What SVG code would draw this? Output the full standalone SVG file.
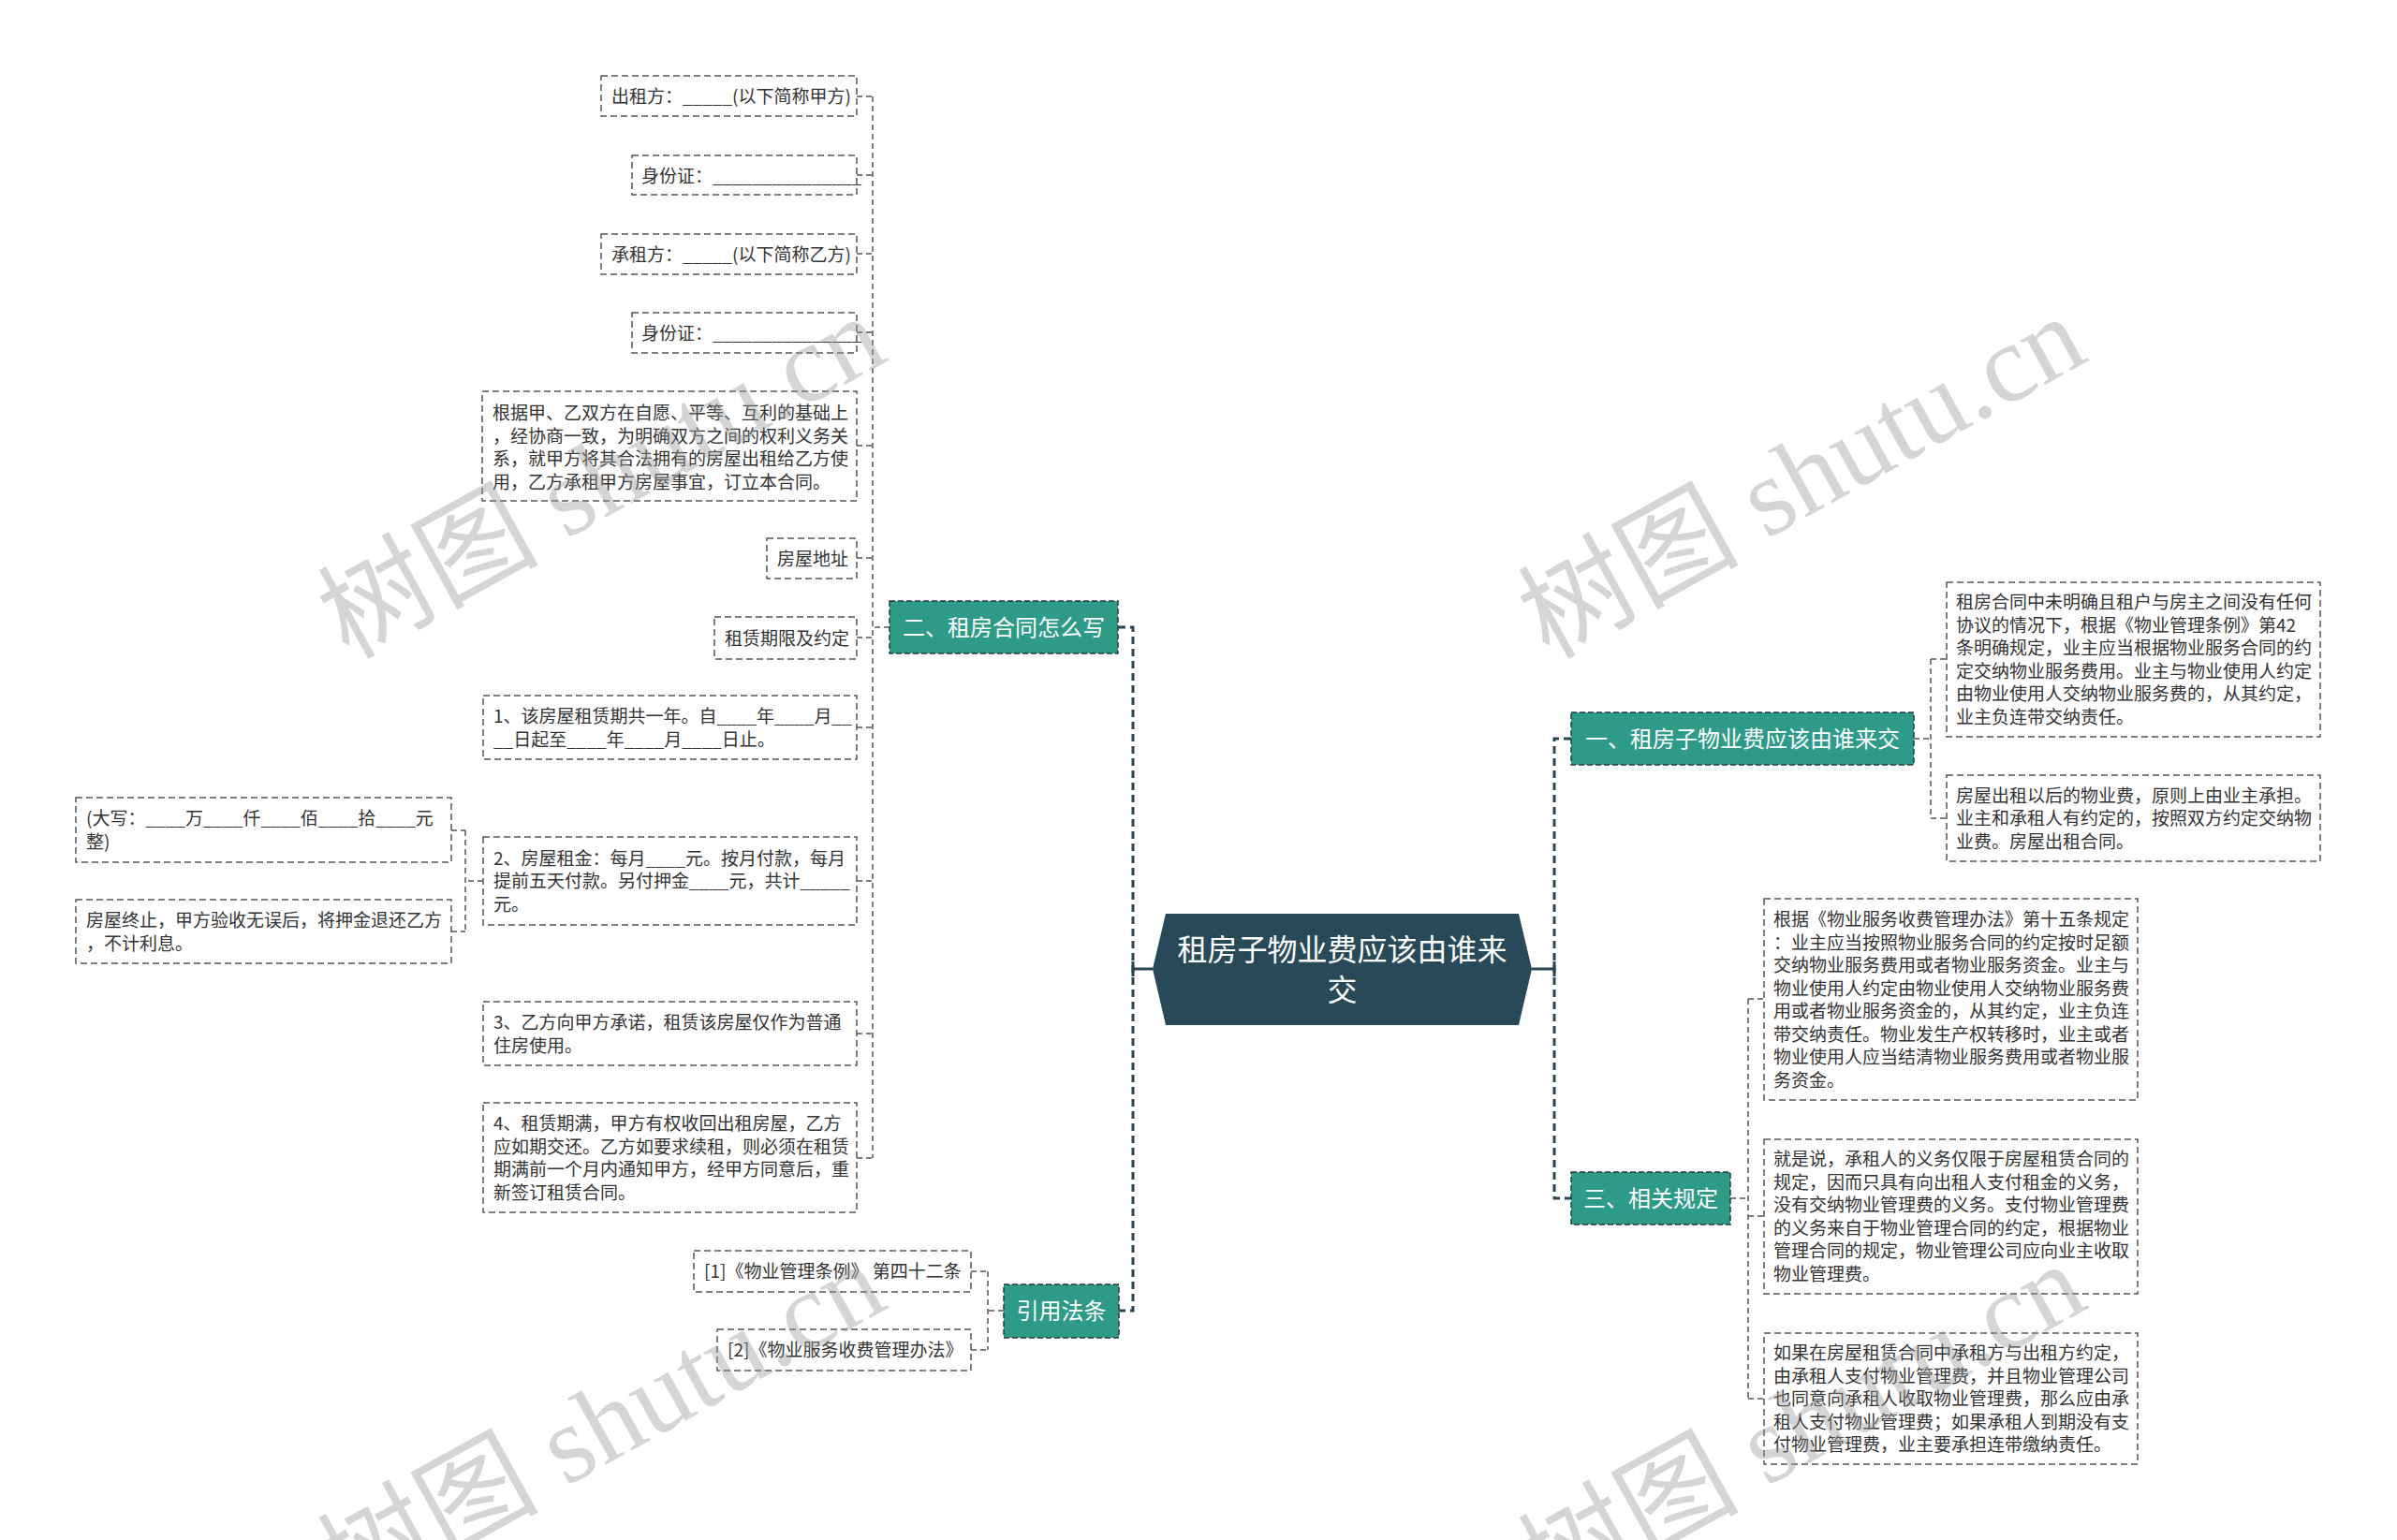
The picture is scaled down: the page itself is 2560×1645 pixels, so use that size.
<svg xmlns="http://www.w3.org/2000/svg" width="2560" height="1645" viewBox="0 0 2560 1645">
<style>
.box{fill:#fff;stroke:#555;stroke-width:1.5;stroke-dasharray:7 4}
.t{font-family:"Noto Sans CJK SC","Noto Sans",sans-serif;font-size:19px;fill:#333}
.topic{fill:#2e9b88;stroke:#2a3a40;stroke-width:1.5;stroke-dasharray:6 3}
.tt{font-family:"Noto Sans CJK SC","Noto Sans",sans-serif;font-size:24px;fill:#fff;text-anchor:middle}
.trunk{stroke:#264653;stroke-width:3;stroke-dasharray:8 5;fill:none}
.link{stroke:#555;stroke-width:1.5;stroke-dasharray:6 4;fill:none}
.solid{stroke:#264653;stroke-width:3;fill:none}
.wm{font-size:118px;fill:#999;opacity:0.4}
.wmc{font-family:"Noto Sans CJK SC",sans-serif}
.wml{font-family:"Liberation Serif",serif}
</style>
<rect width="2560" height="1645" fill="#fff"/>

<g id="connectors">
  <path class="solid" d="M1210 1035H1231M1210 1027V1043M1636 1035H1660M1660 1027V1043"/>
  <path class="trunk" d="M1194 670H1210V1400H1195"/>
  <path class="trunk" d="M1678 789H1660V1280H1678"/>
  <path class="link" d="M950 670H932M932 103V1237M915 103H932M915 187H932M915 271H932M915 355H932M915 476H932M915 596H932M915 681H932M915 777H932M915 941H932M915 1104H932M915 1237H932"/>
  <path class="link" d="M516 941H497M497 887V995M482 887H497M482 995H497"/>
  <path class="link" d="M1072 1400H1055M1055 1358V1442M1037 1358H1055M1037 1442H1055"/>
  <path class="link" d="M2044 789H2062M2062 704V874M2062 704H2079M2062 874H2079"/>
  <path class="link" d="M1848 1280H1867M1867 1067V1494M1867 1067H1884M1867 1299H1884M1867 1494H1884"/>
</g>

<g id="root">
  <polygon points="1245,976 1622,976 1636,1035 1622,1095 1245,1095 1231,1035" fill="#284a58"/>
  <text class="tt" style="font-size:32px" x="1433.5" y="1026">租房子物业费应该由谁来</text>
  <text class="tt" style="font-size:32px" x="1433.5" y="1069">交</text>
</g>

<g id="topic-2">
  <rect class="topic" x="950" y="642" width="244" height="56"/>
  <text class="tt" x="1072" y="678.5">二、租房合同怎么写</text>
</g>
<g id="topic-cite">
  <rect class="topic" x="1072" y="1372" width="123" height="57"/>
  <text class="tt" x="1133.5" y="1409">引用法条</text>
</g>
<g id="topic-1">
  <rect class="topic" x="1678" y="761" width="366" height="56"/>
  <text class="tt" x="1861" y="797.5">一、租房子物业费应该由谁来交</text>
</g>
<g id="topic-3">
  <rect class="topic" x="1678" y="1252" width="170" height="56"/>
  <text class="tt" x="1763" y="1288.5">三、相关规定</text>
</g>

<g id="n-lessor">
  <rect class="box" x="642" y="81" width="273" height="43"/>
  <text class="t" x="653" y="110">出租方：_____(以下简称甲方)</text>
</g>
<g id="n-id1">
  <rect class="box" x="675" y="166" width="240" height="42"/>
  <text class="t" x="685" y="195">身份证：_______________</text>
</g>
<g id="n-lessee">
  <rect class="box" x="642" y="250" width="273" height="43"/>
  <text class="t" x="653" y="279">承租方：_____(以下简称乙方)</text>
</g>
<g id="n-id2">
  <rect class="box" x="675" y="334" width="240" height="43"/>
  <text class="t" x="685" y="363">身份证：_______________</text>
</g>
<g id="n-intro">
  <rect class="box" x="515" y="418" width="400" height="117"/>
  <text class="t"><tspan x="526" y="448">根据甲、乙双方在自愿、平等、互利的基础上</tspan><tspan x="526" y="472.5">，经协商一致，为明确双方之间的权利义务关</tspan><tspan x="526" y="497">系，就甲方将其合法拥有的房屋出租给乙方使</tspan><tspan x="526" y="521.5">用，乙方承租甲方房屋事宜，订立本合同。</tspan></text>
</g>
<g id="n-addr">
  <rect class="box" x="819" y="575" width="96" height="43"/>
  <text class="t" x="830" y="604">房屋地址</text>
</g>
<g id="n-term">
  <rect class="box" x="763" y="659" width="152" height="45"/>
  <text class="t" x="774" y="689">租赁期限及约定</text>
</g>
<g id="n-1">
  <rect class="box" x="516" y="743" width="399" height="68"/>
  <text class="t"><tspan x="527" y="772">1、该房屋租赁期共一年。自____年____月__</tspan><tspan x="527" y="796.5">__日起至____年____月____日止。</tspan></text>
</g>
<g id="n-2">
  <rect class="box" x="516" y="894" width="399" height="94"/>
  <text class="t"><tspan x="527" y="923.5">2、房屋租金：每月____元。按月付款，每月</tspan><tspan x="527" y="948">提前五天付款。另付押金____元，共计_____</tspan><tspan x="527" y="972.5">元。</tspan></text>
</g>
<g id="n-2a">
  <rect class="box" x="81" y="852" width="401" height="69"/>
  <text class="t"><tspan x="92" y="881">(大写：____万____仟____佰____拾____元</tspan><tspan x="92" y="905.5">整)</tspan></text>
</g>
<g id="n-2b">
  <rect class="box" x="81" y="961" width="401" height="68"/>
  <text class="t"><tspan x="92" y="990">房屋终止，甲方验收无误后，将押金退还乙方</tspan><tspan x="92" y="1014.5">，不计利息。</tspan></text>
</g>
<g id="n-3">
  <rect class="box" x="516" y="1070" width="399" height="68"/>
  <text class="t"><tspan x="527" y="1099">3、乙方向甲方承诺，租赁该房屋仅作为普通</tspan><tspan x="527" y="1123.5">住房使用。</tspan></text>
</g>
<g id="n-4">
  <rect class="box" x="516" y="1178" width="399" height="117"/>
  <text class="t"><tspan x="527" y="1207">4、租赁期满，甲方有权收回出租房屋，乙方</tspan><tspan x="527" y="1231.5">应如期交还。乙方如要求续租，则必须在租赁</tspan><tspan x="527" y="1256">期满前一个月内通知甲方，经甲方同意后，重</tspan><tspan x="527" y="1280.5">新签订租赁合同。</tspan></text>
</g>
<g id="n-cite1">
  <rect class="box" x="741" y="1336" width="296" height="44"/>
  <text class="t" x="752" y="1365">[1]《物业管理条例》 第四十二条</text>
</g>
<g id="n-cite2">
  <rect class="box" x="766" y="1420" width="271" height="44"/>
  <text class="t" x="777" y="1449">[2]《物业服务收费管理办法》</text>
</g>

<g id="n-a">
  <rect class="box" x="2079" y="622" width="399" height="165"/>
  <text class="t"><tspan x="2089" y="650">租房合同中未明确且租户与房主之间没有任何</tspan><tspan x="2089" y="674.5">协议的情况下，根据《物业管理条例》第42</tspan><tspan x="2089" y="699">条明确规定，业主应当根据物业服务合同的约</tspan><tspan x="2089" y="723.5">定交纳物业服务费用。业主与物业使用人约定</tspan><tspan x="2089" y="748">由物业使用人交纳物业服务费的，从其约定，</tspan><tspan x="2089" y="772.5">业主负连带交纳责任。</tspan></text>
</g>
<g id="n-b">
  <rect class="box" x="2079" y="828" width="399" height="92"/>
  <text class="t"><tspan x="2089" y="856.5">房屋出租以后的物业费，原则上由业主承担。</tspan><tspan x="2089" y="881">业主和承租人有约定的，按照双方约定交纳物</tspan><tspan x="2089" y="905.5">业费。房屋出租合同。</tspan></text>
</g>
<g id="n-c">
  <rect class="box" x="1884" y="960" width="399" height="215"/>
  <text class="t"><tspan x="1894" y="989">根据《物业服务收费管理办法》第十五条规定</tspan><tspan x="1894" y="1013.5">：业主应当按照物业服务合同的约定按时足额</tspan><tspan x="1894" y="1038">交纳物业服务费用或者物业服务资金。业主与</tspan><tspan x="1894" y="1062.5">物业使用人约定由物业使用人交纳物业服务费</tspan><tspan x="1894" y="1087">用或者物业服务资金的，从其约定，业主负连</tspan><tspan x="1894" y="1111.5">带交纳责任。物业发生产权转移时，业主或者</tspan><tspan x="1894" y="1136">物业使用人应当结清物业服务费用或者物业服</tspan><tspan x="1894" y="1160.5">务资金。</tspan></text>
</g>
<g id="n-d">
  <rect class="box" x="1884" y="1217" width="399" height="165"/>
  <text class="t"><tspan x="1894" y="1245">就是说，承租人的义务仅限于房屋租赁合同的</tspan><tspan x="1894" y="1269.5">规定，因而只具有向出租人支付租金的义务，</tspan><tspan x="1894" y="1294">没有交纳物业管理费的义务。支付物业管理费</tspan><tspan x="1894" y="1318.5">的义务来自于物业管理合同的约定，根据物业</tspan><tspan x="1894" y="1343">管理合同的规定，物业管理公司应向业主收取</tspan><tspan x="1894" y="1367.5">物业管理费。</tspan></text>
</g>
<g id="n-e">
  <rect class="box" x="1884" y="1424" width="399" height="140"/>
  <text class="t"><tspan x="1894" y="1452">如果在房屋租赁合同中承租方与出租方约定，</tspan><tspan x="1894" y="1476.5">由承租人支付物业管理费，并且物业管理公司</tspan><tspan x="1894" y="1501">也同意向承租人收取物业管理费，那么应由承</tspan><tspan x="1894" y="1525.5">租人支付物业管理费；如果承租人到期没有支</tspan><tspan x="1894" y="1550">付物业管理费，业主要承担连带缴纳责任。</tspan></text>
</g>

<g id="watermarks">
  <text class="wm" transform="translate(372 705) rotate(-29)"><tspan class="wmc">树图</tspan><tspan class="wml"> shutu.cn</tspan></text>
  <text class="wm" transform="translate(1654 705) rotate(-29)"><tspan class="wmc">树图</tspan><tspan class="wml"> shutu.cn</tspan></text>
  <text class="wm" transform="translate(372 1717) rotate(-29)"><tspan class="wmc">树图</tspan><tspan class="wml"> shutu.cn</tspan></text>
  <text class="wm" transform="translate(1654 1717) rotate(-29)"><tspan class="wmc">树图</tspan><tspan class="wml"> shutu.cn</tspan></text>
</g>
</svg>
